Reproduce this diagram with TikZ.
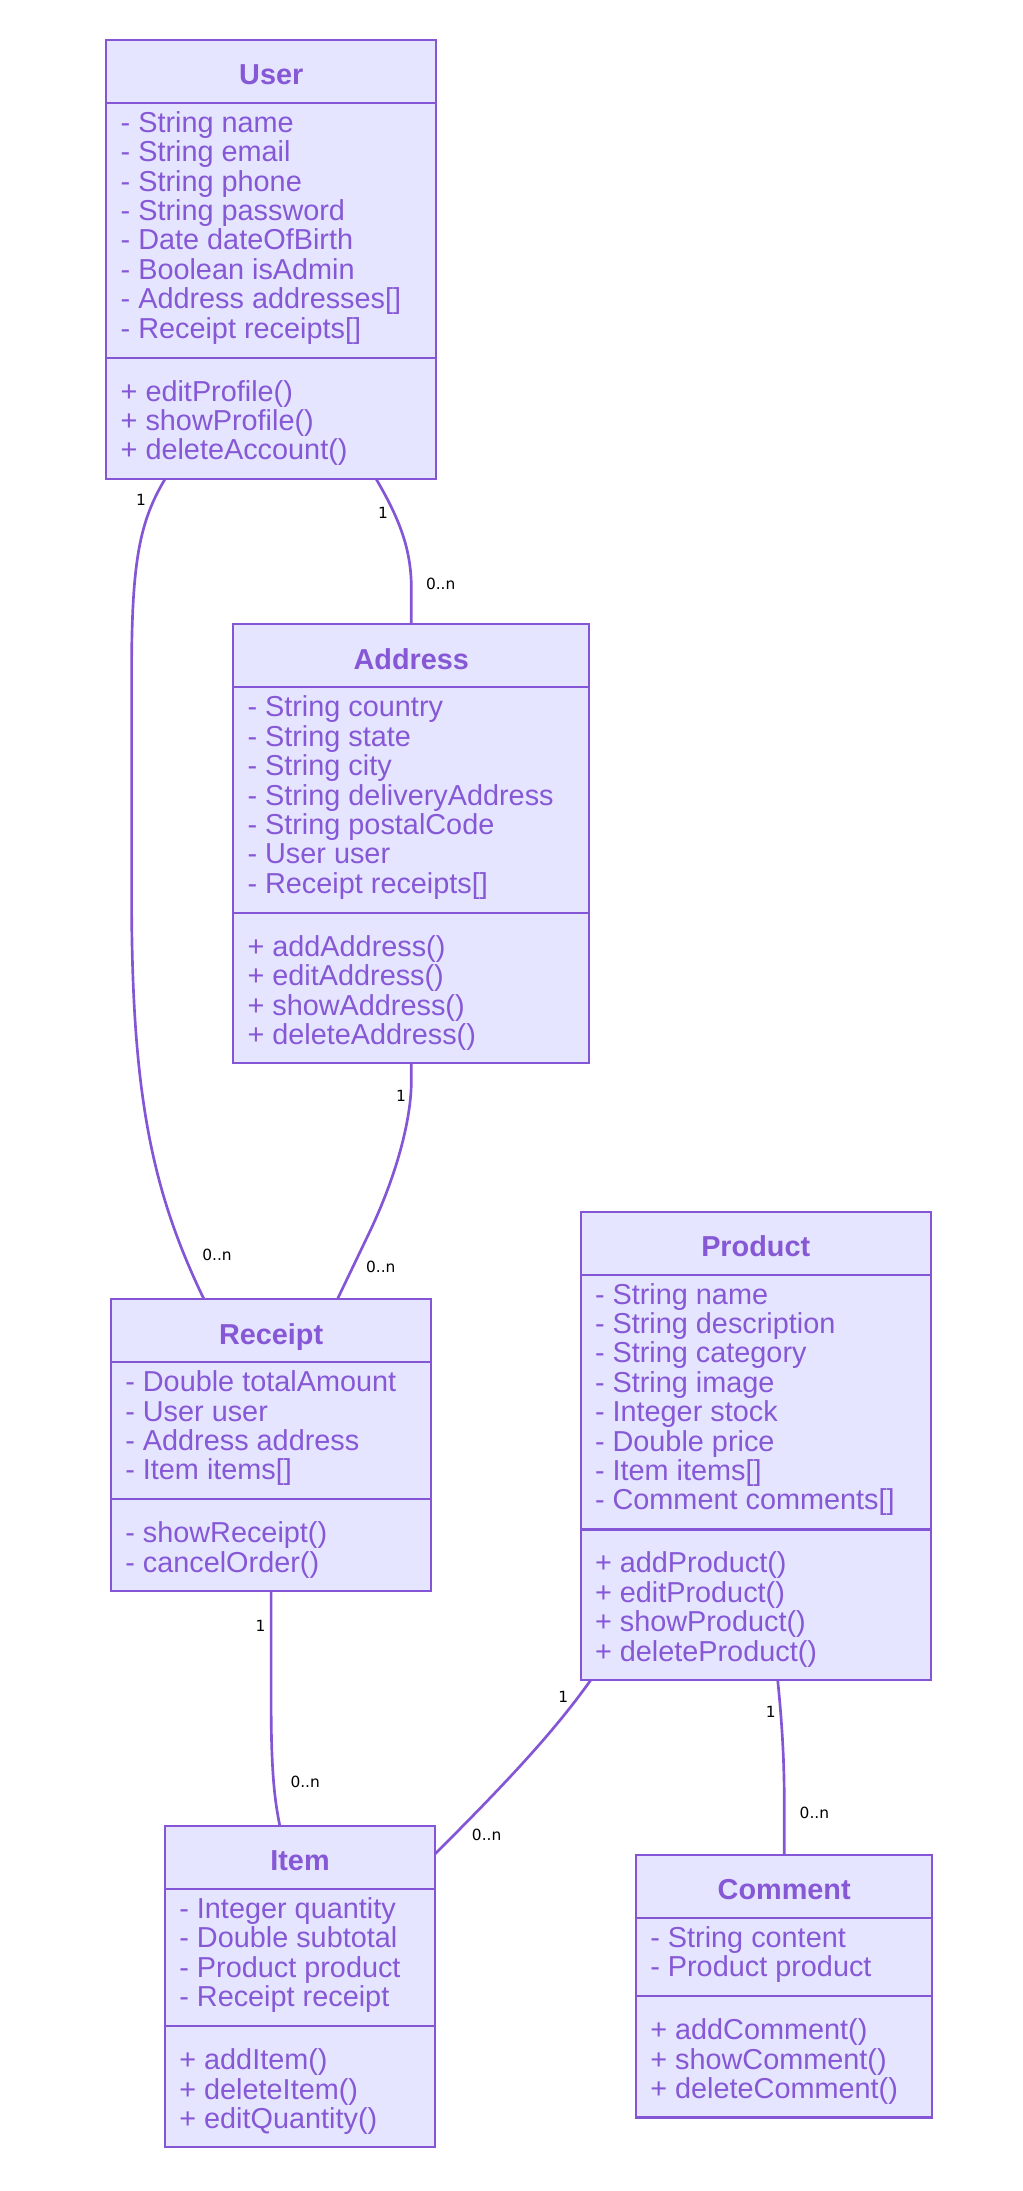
\documentclass[tikz,border=0pt]{standalone}
\usepackage{fontspec}
\setmainfont{Liberation Sans}
\newfontfamily\lblfont{DejaVu Sans}
\definecolor{umlstroke}{RGB}{132,86,214}
\definecolor{umlfill}{RGB}{229,229,255}
\definecolor{umltext}{RGB}{134,88,214}
\tikzset{
  classbox/.style={draw=umlstroke, fill=umlfill, line width=1.5pt, inner sep=0pt, outer sep=0pt, anchor=north west},
  divider/.style={draw=umlstroke, line width=1.5pt},
  classtitle/.style={font=\fontsize{20.6}{21}\selectfont\bfseries, text=umltext, inner sep=0pt, anchor=base},
  member/.style={font=\fontsize{20.6}{21}\selectfont, text=umltext, inner sep=0pt, anchor=base west},
  assoc/.style={draw=umlstroke, line width=1.9pt},
  mult/.style={font=\lblfont\fontsize{11}{11}\selectfont, text=black, inner sep=0pt},
}
% #1 name, #2 x, #3 y, #4 width, #5 title, #6 n attrs, #7 attrs, #8 n methods, #9 methods
\newcommand\umlclass[9]{%
  \pgfmathsetmacro\hA{21*#6+14}%
  \pgfmathsetmacro\hM{21*#8+23.5}%
  \pgfmathsetmacro\hT{45+\hA+\hM}%
  \pgfmathsetmacro\yDa{#3+45}%
  \pgfmathsetmacro\yDb{#3+45+\hA}%
  \pgfmathsetmacro\xR{#2+#4}%
  \node[classbox, minimum width=#4pt, minimum height=\hT pt] (#1) at (#2,#3) {};
  \draw[divider] (#2,\yDa) -- (\xR,\yDa);
  \draw[divider] (#2,\yDb) -- (\xR,\yDb);
  \node[classtitle] (#1-title) at (#2+#4/2,#3+32) {#5};
  \foreach \t [count=\i] in {#7} {
    \pgfmathsetmacro\yy{\yDa+21+21*(\i-1)}
    \node[member] (#1-a\i) at (#2+10,\yy) {\t};
  }
  \foreach \t [count=\i] in {#9} {
    \pgfmathsetmacro\yy{\yDb+31+21*(\i-1)}
    \node[member] (#1-m\i) at (#2+10,\yy) {\t};
  }
}
\begin{document}
\begin{tikzpicture}[x=1pt,y=-1pt]
\fill[white] (0,0) rectangle (730.7,1565);
\useasboundingbox (0,0) rectangle (730.7,1565);

\umlclass{user}{76}{28.5}{235.5}{User}{8}{{- String name},{- String email},{- String phone},{- String password},{- Date dateOfBirth},{- Boolean isAdmin},{- Address addresses[]},{- Receipt receipts[]}}{3}{{+ editProfile()},{+ showProfile()},{+ deleteAccount()}}

\umlclass{address}{166.6}{446}{254.4}{Address}{7}{{- String country},{- String state},{- String city},{- String deliveryAddress},{- String postalCode},{- User user},{- Receipt receipts[]}}{4}{{+ addAddress()},{+ editAddress()},{+ showAddress()},{+ deleteAddress()}}

\umlclass{receipt}{79.3}{928}{228.7}{Receipt}{4}{{- Double totalAmount},{- User user},{- Address address},{- Item items[]}}{2}{{- showReceipt()},{- cancelOrder()}}

\umlclass{product}{414.8}{865.5}{250}{Product}{8}{{- String name},{- String description},{- String category},{- String image},{- Integer stock},{- Double price},{- Item items[]},{- Comment comments[]}}{4}{{+ addProduct()},{+ editProduct()},{+ showProduct()},{+ deleteProduct()}}

\umlclass{item}{117.9}{1304.3}{192.8}{Item}{4}{{- Integer quantity},{- Double subtotal},{- Product product},{- Receipt receipt}}{3}{{+ addItem()},{+ deleteItem()},{+ editQuantity()}}

\umlclass{comment}{454.3}{1325}{211.7}{Comment}{2}{{- String content},{- Product product}}{3}{{+ addComment()},{+ showComment()},{+ deleteComment()}}

% associations
\draw[assoc] ([xshift=42pt]user.south west) .. controls (100,372) and (94,400) .. (94,480) -- (94,640) .. controls (94,780) and (108,850) .. ([xshift=66.4pt]receipt.north west);
\draw[assoc] ([xshift=192.6pt]user.south west) .. controls (285,370) and (293.8,392) .. (293.8,420) -- (address.north);
\draw[assoc] (address.south) -- (293.8,772) .. controls (293.8,800) and (283,840) .. (264,880) -- ([xshift=161.7pt]receipt.north west);
\draw[assoc] (receipt.south) -- (193.65,1215) .. controls (193.65,1265) and (196,1285) .. ([xshift=82pt]item.north west);
\draw[assoc] ([xshift=7.2pt]product.south west) .. controls (395,1238) and (360,1275) .. ([yshift=-20pt]item.north east);
\draw[assoc] ([xshift=140.7pt]product.south west) .. controls (559,1235) and (560.2,1260) .. (560.2,1290) -- (comment.north);

% multiplicities
\node[mult] (l1a) at (100.7,357) {1};
\node[mult] (l1b) at (155,896) {0..n};
\node[mult] (l2a) at (273.6,366.5) {1};
\node[mult] (l2b) at (314.8,417) {0..n};
\node[mult] (l3a) at (286.4,783) {1};
\node[mult] (l3b) at (272,905) {0..n};
\node[mult] (l4a) at (186,1161) {1};
\node[mult] (l4b) at (218,1273) {0..n};
\node[mult] (l5a) at (402.4,1212) {1};
\node[mult] (l5b) at (347.6,1310.7) {0..n};
\node[mult] (l6a) at (550.5,1223) {1};
\node[mult] (l6b) at (581.7,1295) {0..n};
\end{tikzpicture}
\end{document}
